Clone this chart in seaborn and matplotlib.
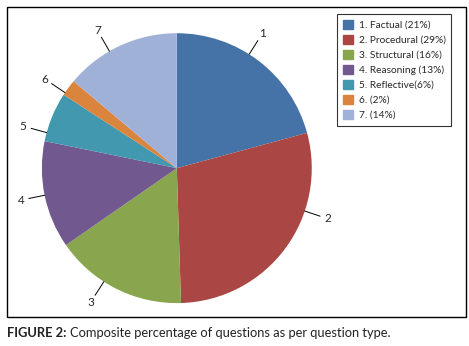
import numpy as np
import matplotlib
matplotlib.use("Agg")
import matplotlib.pyplot as plt
import seaborn as sns
from matplotlib.patches import Rectangle

# question type shares (percent)
labels = ["1", "2", "3", "4", "5", "6", "7"]
legend_labels = ["1. Factual (21%)", "2. Procedural (29%)", "3. Structural (16%)",
                 "4. Reasoning (13%)", "5. Reflective(6%)", "6. (2%)", "7. (14%)"]
shares = [21, 29, 16, 13, 6, 2, 14]
colors = ["#4572A7", "#AA4643", "#89A54E", "#71588F", "#4198AF", "#DB843D", "#A0B1D8"]
# nudges (degrees) of the outside labels away from the slice middle
label_nudge = [5, 18, -6, 0, 7, 2.5, 5]

sns.set_style("white")
plt.rcParams['font.family'] = ['Lato', 'DejaVu Sans']

fig = plt.figure(figsize=(4.69, 3.46), dpi=100)
ax = fig.add_axes([0.089, 0.124, 0.576, 0.780])

wedges, _ = ax.pie(shares, colors=colors, startangle=90, counterclock=False,
                   wedgeprops=dict(linewidth=0))
ax.set_xlim(-1, 1)
ax.set_ylim(-1, 1)
ax.set_aspect("equal")
ax.axis("off")

# outside number labels with leader lines
for w, lab, nd in zip(wedges, labels, label_nudge):
    ang = np.deg2rad((w.theta1 + w.theta2) / 2 + nd)
    x, y = np.cos(ang), np.sin(ang)
    ax.plot([x, 1.12 * x], [y, 1.12 * y], color="black", lw=0.7, clip_on=False)
    ax.text(1.18 * x, 1.18 * y, lab, fontsize=8.5, ha="center", va="center")

handles = [plt.Rectangle((0, 0), 1, 1, color=c) for c in colors]
leg = fig.legend(handles, legend_labels, loc="upper left",
                 bbox_to_anchor=(0.7186, 0.9595), fontsize=7.3, frameon=True,
                 fancybox=False, edgecolor="black", handlelength=1.0,
                 handleheight=1.0, labelspacing=0.5, borderpad=0.55,
                 handletextpad=0.6, borderaxespad=0)
leg.get_frame().set_linewidth(0.8)

# outer frame
fig.patches.append(Rectangle((0.0149, 0.0838), 0.9787, 0.896, transform=fig.transFigure,
                             fill=False, edgecolor="black", linewidth=1.0))

t1 = fig.text(0.015, 0.037, "FIGURE 2:", fontsize=9.3, fontweight="bold", va="center",
              color="#222222")
fig.canvas.draw()
bb = t1.get_window_extent().transformed(fig.transFigure.inverted())
fig.text(bb.x1 + 0.008, 0.037, "Composite percentage of questions as per question type.",
         fontsize=9.3, va="center", color="#222222")

fig.savefig("out.png", dpi=100)
